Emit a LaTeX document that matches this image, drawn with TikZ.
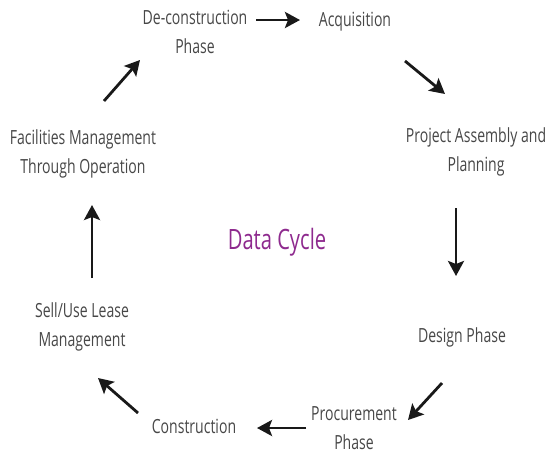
\documentclass[tikz,border=0pt]{standalone}
\usepackage{fontspec}
\setmainfont{Open Sans}[FakeStretch=0.72]
\usetikzlibrary{arrows.meta}
\definecolor{lbl}{HTML}{474747}
\definecolor{dc}{HTML}{8E2A8E}
\tikzset{
  lab/.style={align=center, text=lbl, font=\fontsize{19.5}{29}\selectfont, inner sep=0pt},
  flow/.style={-{Stealth[length=15pt,width=16pt,inset=3pt]}, line width=2.8pt, black!90},
}
\begin{document}
\begin{tikzpicture}[x=1pt,y=-1pt]
\useasboundingbox (0,0) rectangle (545,456);
\node[lab] (dec) at (195,32) {De-construction\\Phase};
\node[lab] (acq) at (355,22) {Acquisition};
\node[lab] (pap) at (476,152) {Project Assembly and\\Planning};
\node[lab] (des) at (462,337) {Design Phase};
\node[lab] (pro) at (354,428) {Procurement\\Phase};
\node[lab] (con) at (194,426) {Construction};
\node[lab] (sel) at (82,327) {Sell/Use Lease\\Management};
\node[lab] (fac) at (83,154) {Facilities Management\\Through Operation};
\node[text=dc, font=\fontsize{28}{30}\selectfont, inner sep=0pt] (dat) at (277,242) {Data Cycle};
\coordinate (a1) at (256,20); \coordinate (b1) at (300,20);
\coordinate (a2) at (405,61); \coordinate (b2) at (445,94);
\coordinate (a3) at (456,208); \coordinate (b3) at (456,276);
\coordinate (a4) at (442,383); \coordinate (b4) at (408,420);
\coordinate (a5) at (306,428); \coordinate (b5) at (257,428);
\coordinate (a6) at (138,413); \coordinate (b6) at (98,378);
\coordinate (a7) at (92,278); \coordinate (b7) at (92,205);
\coordinate (a8) at (104,101); \coordinate (b8) at (140,60);
\draw[flow] (a1) -- (b1);
\draw[flow] (a2) -- (b2);
\draw[flow] (a3) -- (b3);
\draw[flow] (a4) -- (b4);
\draw[flow] (a5) -- (b5);
\draw[flow] (a6) -- (b6);
\draw[flow] (a7) -- (b7);
\draw[flow] (a8) -- (b8);
\end{tikzpicture}
\end{document}
